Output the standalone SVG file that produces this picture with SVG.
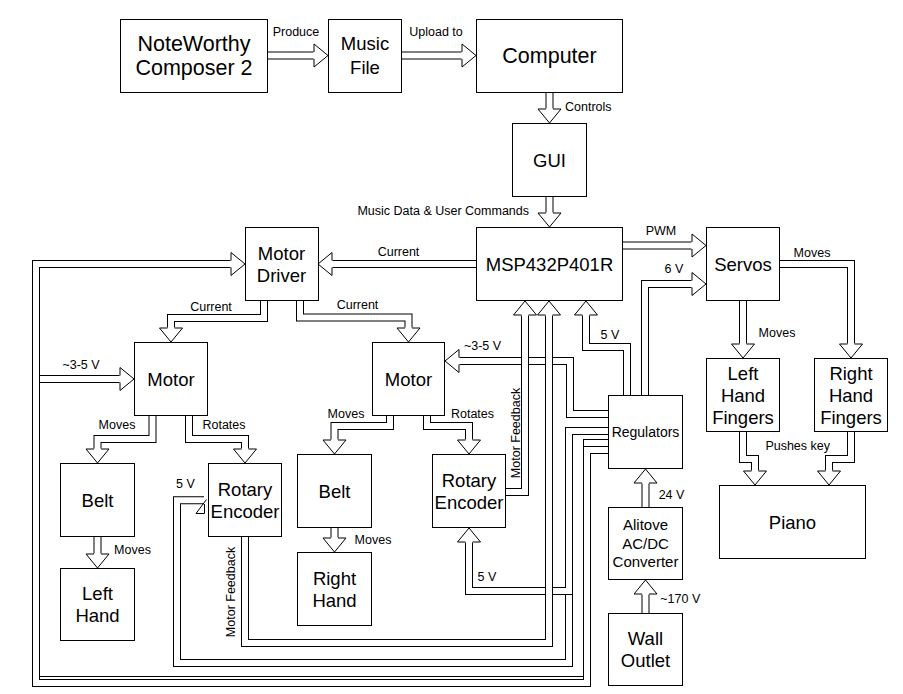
<svg xmlns="http://www.w3.org/2000/svg" width="903" height="694" viewBox="0 0 903 694">
<style>
.n rect{fill:#fff;stroke:#000;stroke-width:1}
text{font-family:"Liberation Sans",Arial,Helvetica,sans-serif;fill:#000}
.t{font-size:18.5px;text-anchor:middle}
.l{font-size:12.5px;text-anchor:middle}
.o{fill:none;stroke:#000;stroke-width:8;stroke-linejoin:miter}
.i{fill:none;stroke:#fff;stroke-width:6;stroke-linejoin:miter;marker-end:url(#ah)}
.x{fill:none;stroke:#fff;stroke-width:6;stroke-linejoin:miter}
</style>
<defs>
<marker id="ah" markerUnits="userSpaceOnUse" orient="auto" overflow="visible" markerWidth="1" markerHeight="1" refX="0" refY="0">
<path d="M-0.5,-11.5 L14,0 L-0.5,11.5 Z" fill="#fff" stroke="none"/>
<path d="M0,-3.5 V-11.5 L14,0 L0,11.5 V3.5" fill="none" stroke="#000" stroke-width="1"/>
</marker>
</defs>
<rect width="903" height="694" fill="#fff"/>
<g id="connectors">
<g id="e-produce"><path class="o" d="M268,55.5 H314"/><path class="i" d="M268,55.5 H314"/></g>
<g id="e-upload"><path class="o" d="M402,55.5 H462"/><path class="i" d="M402,55.5 H462"/></g>
<g id="e-controls"><path class="o" d="M549.5,92 V109"/><path class="i" d="M549.5,92 V109"/></g>
<g id="e-musicdata"><path class="o" d="M549.5,197 V213"/><path class="i" d="M549.5,197 V213"/></g>
<g id="e-msp-md"><path class="o" d="M476,264 H332"/><path class="i" d="M476,264 H332"/></g>
<g id="e-md-motorL"><path class="o" d="M264,301 V318 H171 V328"/><path class="i" d="M264,301 V318 H171 V328"/></g>
<g id="e-md-motorR"><path class="o" d="M300,301 V317.5 H408.5 V328"/><path class="i" d="M300,301 V317.5 H408.5 V328"/></g>
<g id="e-motorL-belt"><path class="o" d="M152.5,416 V439 H97.5 V449"/><path class="i" d="M152.5,416 V439 H97.5 V449"/></g>
<g id="e-motorL-re"><path class="o" d="M189,416 V439 H245 V449"/><path class="i" d="M189,416 V439 H245 V449"/></g>
<g id="e-belt-lh"><path class="o" d="M97.5,537 V554"/><path class="i" d="M97.5,537 V554"/></g>
<g id="e-motorR-belt"><path class="o" d="M390,416 V426 H334.5 V440"/><path class="i" d="M390,416 V426 H334.5 V440"/></g>
<g id="e-motorR-re"><path class="o" d="M427,416 V426 H469 V440"/><path class="i" d="M427,416 V426 H469 V440"/></g>
<g id="e-belt-rh"><path class="o" d="M334.5,528 V538"/><path class="i" d="M334.5,528 V538"/></g>
<g id="e-pwm"><path class="o" d="M623,245.5 H692"/><path class="i" d="M623,245.5 H692"/></g>
<g id="e-6v"><path class="o" d="M645,395 V284 H692"/><path class="i" d="M645,395 V284 H692"/></g>
<g id="e-servo-lhf"><path class="o" d="M743,301 V344"/><path class="i" d="M743,301 V344"/></g>
<g id="e-servo-rhf"><path class="o" d="M780,264 H851 V344"/><path class="i" d="M780,264 H851 V344"/></g>
<g id="e-lhf-piano"><path class="o" d="M743,432 V459 H755 V471"/><path class="i" d="M743,432 V459 H755 V471"/></g>
<g id="e-rhf-piano"><path class="o" d="M851,432 V459 H829 V471"/><path class="i" d="M851,432 V459 H829 V471"/></g>
<g id="e-24v"><path class="o" d="M645.5,507 V483"/><path class="i" d="M645.5,507 V483"/></g>
<g id="e-170v"><path class="o" d="M645.5,613 V594"/><path class="i" d="M645.5,613 V594"/></g>
<g id="e-5v-msp"><path class="o" d="M627,395 V347 H586 V315"/><path class="i" d="M627,395 V347 H586 V315"/></g>
<g id="e-35v-motorR"><path class="o" d="M608,414 H570 V361 H459"/><path class="i" d="M608,414 H570 V361 H459"/></g>
<g id="e-5v-reL"><path class="o" d="M608,431 H569 V663 H177 V500.3 H204"/><path class="x" d="M608,431 H569 V663 H177 V500.3 H204"/><path d="M196,513.5 H204.5 V504 M196,513.5 L206.5,499.5" fill="#fff" stroke="#000" stroke-width="1"/></g>
<g id="e-5v-reR"><path class="o" d="M608,431 H569 V591 H469 V542"/><path class="i" d="M608,431 H569 V591 H469 V542"/></g>
<g id="e-35v-motorL"><path class="o" d="M608,443 H587 V680 H36 V379 H120"/><path class="i" d="M608,443 H587 V680 H36 V379 H120"/></g>
<g id="e-current-md"><path class="o" d="M608,450 H587 V683 H36 V264 H231"/><path class="i" d="M608,450 H587 V683 H36 V264 H231"/></g>
<g id="e-fb-reR"><path class="o" d="M506,492 H525 V315"/><path class="i" d="M506,492 H525 V315"/></g>
<g id="e-fb-reL"><path class="o" d="M245,537 V643 H549 V315"/><path class="i" d="M245,537 V643 H549 V315"/></g>
</g>
<g id="edge-labels">
<text class="l" x="296" y="36">Produce</text>
<text class="l" x="436" y="36">Upload to</text>
<text class="l" x="565" y="111" style="text-anchor:start">Controls</text>
<text class="l" x="529" y="214.5" style="text-anchor:end">Music Data &amp; User Commands</text>
<text class="l" x="398.5" y="256">Current</text>
<text class="l" x="211" y="311">Current</text>
<text class="l" x="357.5" y="308.6">Current</text>
<text class="l" x="661" y="235">PWM</text>
<text class="l" x="674" y="273.3">6 V</text>
<text class="l" x="812" y="256.6">Moves</text>
<text class="l" x="777" y="337">Moves</text>
<text class="l" x="610" y="339.3">5 V</text>
<text class="l" x="482.5" y="349.6">~3-5 V</text>
<text class="l" x="81" y="368.6">~3-5 V</text>
<text class="l" x="117" y="429.3">Moves</text>
<text class="l" x="224" y="429.3">Rotates</text>
<text class="l" x="346" y="418.3">Moves</text>
<text class="l" x="472.5" y="418.3">Rotates</text>
<text class="l" x="797.7" y="449.6">Pushes key</text>
<text class="l" x="185.5" y="488.3">5 V</text>
<text class="l" x="671.5" y="498.6">24 V</text>
<text class="l" x="132.5" y="554.3">Moves</text>
<text class="l" x="373" y="543.6">Moves</text>
<text class="l" x="487" y="581">5 V</text>
<text class="l" x="680.3" y="602.6">~170 V</text>
<text class="l" transform="translate(516,433) rotate(-90)" y="4.3">Motor Feedback</text>
<text class="l" transform="translate(230.5,592) rotate(-90)" y="4.3">Motor Feedback</text>
</g>
<g id="nwc" class="n"><rect x="120.5" y="19.5" width="147" height="73"/><text class="t" style="font-size:21.5px" x="194" y="50.5">NoteWorthy</text><text class="t" style="font-size:21.5px" x="194" y="74.5">Composer 2</text></g>
<g id="musicfile" class="n"><rect x="328.5" y="19.5" width="73" height="73"/><text class="t" x="365" y="50">Music</text><text class="t" x="365" y="73.5">File</text></g>
<g id="computer" class="n"><rect x="476.5" y="19.5" width="146" height="73"/><text class="t" style="font-size:21.5px" x="549.5" y="63">Computer</text></g>
<g id="gui" class="n"><rect x="512.5" y="123.5" width="74" height="73"/><text class="t" x="549.5" y="166.8">GUI</text></g>
<g id="msp" class="n"><rect x="476.5" y="227.5" width="146" height="73"/><text class="t" x="549.5" y="270.8">MSP432P401R</text></g>
<g id="motordriver" class="n"><rect x="245.5" y="227.5" width="73" height="73"/><text class="t" x="281.5" y="259.5">Motor</text><text class="t" x="281.5" y="281.5">Driver</text></g>
<g id="servos" class="n"><rect x="706.5" y="227.5" width="73" height="73"/><text class="t" x="743" y="270.8">Servos</text></g>
<g id="motorL" class="n"><rect x="134.5" y="342.5" width="73" height="73"/><text class="t" x="171" y="385.8">Motor</text></g>
<g id="motorR" class="n"><rect x="372.5" y="342.5" width="72" height="73"/><text class="t" x="408.5" y="385.8">Motor</text></g>
<g id="beltL" class="n"><rect x="60.5" y="463.5" width="74" height="73"/><text class="t" x="97.5" y="506.8">Belt</text></g>
<g id="encoderL" class="n"><rect x="208.5" y="463.5" width="73" height="73"/><text class="t" x="245" y="495.6">Rotary</text><text class="t" x="245" y="517.6">Encoder</text></g>
<g id="lefthand" class="n"><rect x="60.5" y="568.5" width="74" height="72"/><text class="t" x="97.5" y="600.3">Left</text><text class="t" x="97.5" y="622.3">Hand</text></g>
<g id="beltR" class="n"><rect x="297.5" y="454.5" width="74" height="73"/><text class="t" x="334.5" y="497.8">Belt</text></g>
<g id="righthand" class="n"><rect x="297.5" y="552.5" width="74" height="73"/><text class="t" x="334.5" y="584.6">Right</text><text class="t" x="334.5" y="606.6">Hand</text></g>
<g id="encoderR" class="n"><rect x="432.5" y="454.5" width="73" height="73"/><text class="t" x="469" y="486.6">Rotary</text><text class="t" x="469" y="508.6">Encoder</text></g>
<g id="regulators" class="n"><rect x="608.5" y="395.5" width="74" height="73"/><text class="t" style="font-size:14px" x="645.5" y="437">Regulators</text></g>
<g id="alitove" class="n"><rect x="608.5" y="507.5" width="74" height="72"/><text class="t" style="font-size:15px" x="645.5" y="529.7">Alitove</text><text class="t" style="font-size:15px" x="645.5" y="548.7">AC/DC</text><text class="t" style="font-size:15px" x="645.5" y="567.1">Converter</text></g>
<g id="walloutlet" class="n"><rect x="608.5" y="613.5" width="74" height="72"/><text class="t" x="645.5" y="645.3">Wall</text><text class="t" x="645.5" y="667.3">Outlet</text></g>
<g id="lefthandfingers" class="n"><rect x="706.5" y="358.5" width="73" height="73"/><text class="t" x="743" y="379.8">Left</text><text class="t" x="743" y="401.8">Hand</text><text class="t" x="743" y="423.8">Fingers</text></g>
<g id="righthandfingers" class="n"><rect x="814.5" y="358.5" width="73" height="73"/><text class="t" x="851" y="379.8">Right</text><text class="t" x="851" y="401.8">Hand</text><text class="t" x="851" y="423.8">Fingers</text></g>
<g id="piano" class="n"><rect x="719.5" y="485.5" width="146" height="73"/><text class="t" x="792.5" y="528.8">Piano</text></g>
</svg>
